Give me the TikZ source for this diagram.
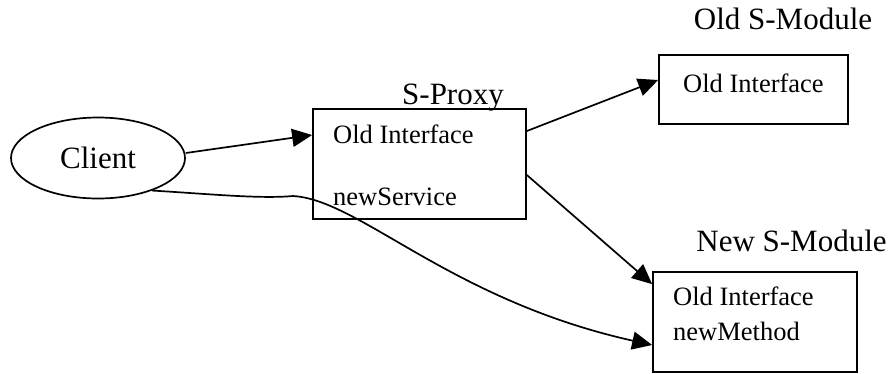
\documentclass[tikz,border=0pt]{standalone}
\usepackage{fontspec}
\setmainfont{Liberation Serif}
\usetikzlibrary{positioning,arrows.meta,shapes.geometric}

\begin{document}
\begin{tikzpicture}[x=1pt, y=-1pt,
    box/.style={draw, line width=1.7pt, rectangle, inner sep=0pt},
    usr/.style={draw, line width=1.7pt, ellipse, inner sep=0pt,
                minimum width=174pt, minimum height=81pt, font=\fontsize{31}{37}\selectfont},
    ttl/.style={font=\fontsize{31}{37}\selectfont, anchor=base, inner sep=0pt},
    itm/.style={font=\fontsize{26.5}{32}\selectfont, anchor=base west, inner sep=0pt},
    arr/.style={-{Triangle[length=20pt, width=18pt]}, line width=1.7pt}
  ]
  \useasboundingbox (0,0) rectangle (893,373);

  % ---------------- Client and proxy ----------------
  \node[usr] (client) at (98,158) {Client};
  \node[box, minimum width=213pt, minimum height=110pt] (proxy) at (419.5,164) {};
  \node[ttl] (proxyttl) at (453,104) {S-Proxy};
  \node[itm] (proxyold) at (333,143) {Old Interface};
  \node[itm] (proxynew) at (333,205) {newService};

  % ---------------- Modules ----------------
  \node[box, minimum width=189pt, minimum height=69pt] (oldmod) at (753.5,89.5) {};
  \node[ttl] (oldttl) at (783,29) {Old S-Module};
  \node[itm] (oldold) at (683,92) {Old Interface};

  \node[box, minimum width=204pt, minimum height=100pt] (newmod) at (755,322) {};
  \node[ttl] (newttl) at (791.5,251) {New S-Module};
  \node[itm] (newold) at (673,305) {Old Interface};
  \node[itm] (newmeth) at (673,340) {newMethod};

  % ---------------- Calls ----------------
  \draw[arr] ([yshift=5pt]client.east) -- ([yshift=29pt]proxy.west);
  \draw[arr] ([yshift=33pt]proxy.east) -- ([yshift=9.5pt]oldmod.west);
  \draw[arr] ([yshift=-11pt]proxy.east) -- ([yshift=-13pt]newmod.north west);
  \draw[arr] (client.-31) .. controls (210,194) and (260,199) .. (293,196)
    .. controls (360,200) and (450,300) .. ([yshift=-23pt]newmod.west);
\end{tikzpicture}
\end{document}
